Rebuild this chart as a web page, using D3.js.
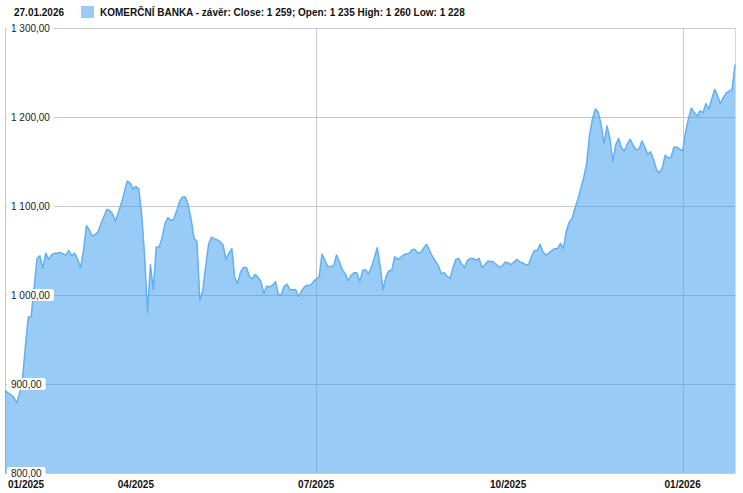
<!DOCTYPE html>
<html>
<head>
<meta charset="utf-8">
<script src="https://cdn.jsdelivr.net/npm/d3@7"></script>
<style>
html,body{margin:0;padding:0;background:#fff;}
svg{display:block;font-family:"Liberation Sans",Arial,sans-serif;}
</style>
</head>
<body>
<svg id="chart" width="743" height="493"></svg>
<script>
// Daily closes (trading days) from 27.01.2025 to 27.01.2026
const closes = [
893,890,888,885,879,889,905,942,975,976,
1008,1041,1044,1030,1047,1040,1045,1047,1047,1048,
1046,1045,1050,1044,1047,1040,1031,1050,1078,1073,
1066,1068,1071,1080,1088,1096,1095,1091,1083,1093,
1103,1115,1128,1126,1119,1122,1119,1090,1044,980,
1034,1006,1054,1054,1064,1080,1087,1084,1085,1094,
1105,1110,1110,1101,1085,1064,1060,994,1005,1032,
1057,1065,1063,1062,1060,1056,1040,1047,1052,1019,
1013,1026,1031,1031,1021,1018,1023,1020,1015,1002,
1010,1009,1011,1015,1001,1000,1010,1012,1006,1006,
1006,998,1005,1009,1011,1011,1015,1018,1020,1046,
1039,1032,1032,1033,1045,1037,1028,1024,1016,1022,
1025,1025,1015,1028,1028,1024,1031,1042,1053,1032,
1006,1021,1027,1028,1043,1040,1042,1045,1046,1047,
1051,1051,1047,1048,1053,1057,1050,1043,1038,1033,
1024,1025,1021,1019,1030,1040,1041,1035,1031,1039,
1041,1041,1039,1041,1031,1034,1038,1038,1037,1034,
1031,1033,1037,1036,1034,1037,1040,1037,1036,1034,
1034,1043,1050,1050,1057,1048,1045,1047,1050,1052,
1052,1058,1052,1072,1082,1086,1098,1108,1120,1132,
1148,1180,1198,1209,1205,1191,1170,1190,1175,1150,
1169,1176,1165,1162,1170,1175,1168,1163,1164,1173,
1166,1158,1161,1152,1141,1137,1143,1157,1154,1155,
1166,1166,1164,1162,1183,1198,1210,1205,1201,1207,
1205,1215,1209,1220,1231,1224,1215,1222,1227,1229,
1231,1259
];
const xTickLabels = ["01/2025","04/2025","07/2025","10/2025","01/2026"];
const xTickIndex  = [0, 45, 107, 173, 233];
const xGridIndex  = [107, 233];
const yTicks = [800, 900, 1000, 1100, 1200, 1300];
const dateLabel = "27.01.2026";
const legendLabel = "KOMERČNÍ BANKA - závěr: Close: 1 259; Open: 1 235 High: 1 260 Low: 1 228";

const svg = d3.select("#chart");
const pLeft = 5, pRight = 735, pTop = 28, pBottom = 473;

const x = d3.scaleLinear().domain([0, closes.length - 1]).range([pLeft, pRight]);
const y = d3.scaleLinear().domain([800, 1300]).range([pBottom, pTop]);

const cz = d3.formatLocale({decimal: ",", thousands: " ", grouping: [3], currency: ["", " Kč"]});
const fmt = cz.format(",.2f");

// grid
const grid = svg.append("g");
grid.selectAll("line.h").data(yTicks).join("line")
  .attr("x1", pLeft).attr("x2", pRight)
  .attr("y1", d => Math.round(y(d)) + 0.5).attr("y2", d => Math.round(y(d)) + 0.5)
  .attr("stroke", "#c8c8c8").attr("stroke-width", 1);
grid.selectAll("line.v").data(xGridIndex).join("line")
  .attr("x1", d => Math.round(x(d)) + 0.5).attr("x2", d => Math.round(x(d)) + 0.5)
  .attr("y1", pTop).attr("y2", pBottom)
  .attr("stroke", "#c8c8c8").attr("stroke-width", 1);
grid.append("line").attr("x1", pLeft + 0.5).attr("x2", pLeft + 0.5).attr("y1", pTop).attr("y2", pBottom)
  .attr("stroke", "#c8c8c8");
grid.append("line").attr("x1", pRight + 0.5).attr("x2", pRight + 0.5).attr("y1", pTop).attr("y2", pBottom)
  .attr("stroke", "#d8d8d8");

// area
const area = d3.area().x((d, i) => x(i)).y0(y(800)).y1(d => y(d));
const line = d3.line().x((d, i) => x(i)).y(d => y(d));
svg.append("path").datum(closes).attr("d", area)
  .attr("fill", "rgb(52,152,240)").attr("fill-opacity", 0.5);
svg.append("path").datum(closes).attr("d", line)
  .attr("fill", "none").attr("stroke", "rgb(98,176,238)").attr("stroke-width", 1.5)
  .attr("stroke-linejoin", "round");

// y labels with white boxes
const yl = svg.append("g").selectAll("g").data(yTicks).join("g")
  .attr("transform", d => `translate(11,${Math.round(y(d))})`);
yl.each(function(d) {
  const g = d3.select(this);
  const t = g.append("text").text(fmt(d)).attr("font-size", 10).attr("fill", "#222")
    .attr("dy", "0.35em");
  const w = t.node().getComputedTextLength();
  g.insert("rect", "text").attr("x", -4).attr("y", -6).attr("width", w + 8).attr("height", 12)
    .attr("rx", 2).attr("fill", "#fff");
});

// x labels
svg.append("g").selectAll("text").data(xTickIndex).join("text")
  .attr("x", (d, i) => i === 0 ? 8 : x(d))
  .attr("y", 488)
  .attr("text-anchor", (d, i) => i === 0 ? "start" : "middle")
  .attr("font-size", 10).attr("font-weight", "bold").attr("fill", "#111")
  .text((d, i) => xTickLabels[i]);

// legend
svg.append("text").attr("x", 14).attr("y", 16).attr("font-size", 10).attr("font-weight", "bold")
  .attr("fill", "#111").text(dateLabel);
svg.append("rect").attr("x", 81).attr("y", 6).attr("width", 13).attr("height", 12)
  .attr("fill", "rgb(52,152,240)").attr("fill-opacity", 0.5);
svg.append("text").attr("x", 100).attr("y", 16).attr("font-size", 10).attr("font-weight", "bold")
  .attr("fill", "#111").text(legendLabel);
</script>
</body>
</html>
